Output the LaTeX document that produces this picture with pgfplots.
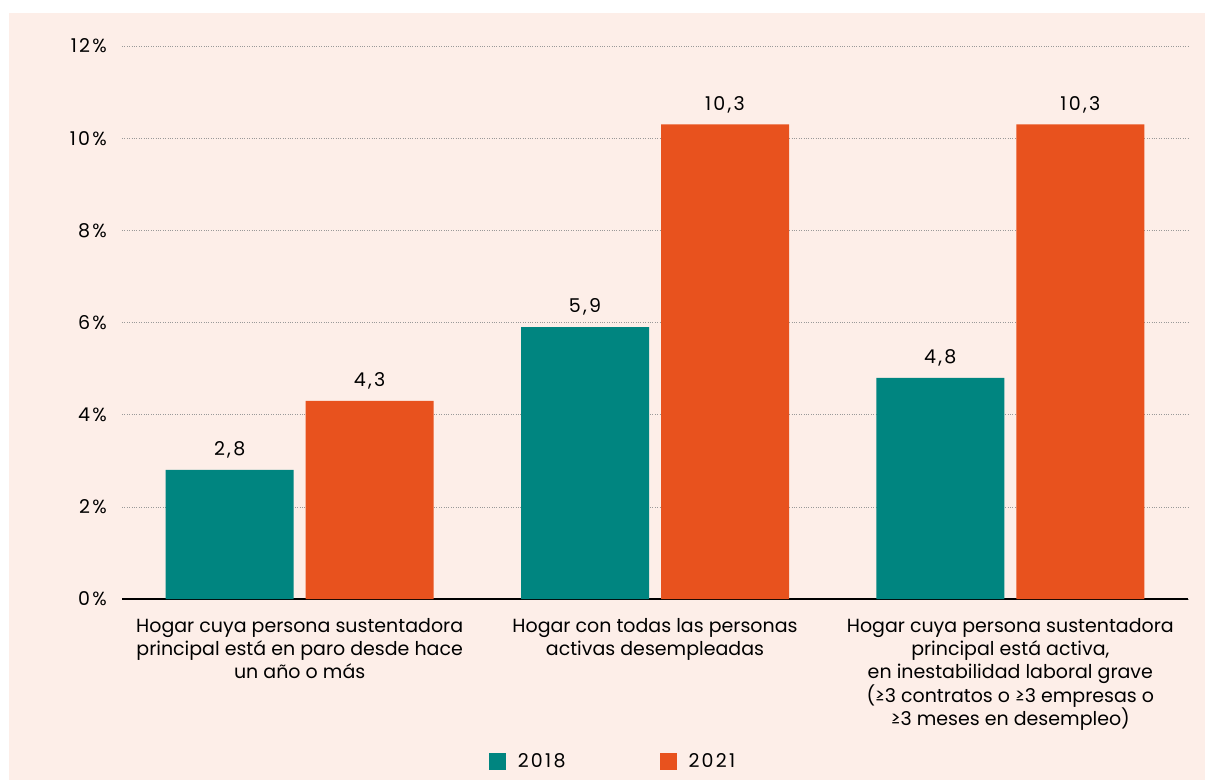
\documentclass[border=0pt]{standalone}
\usepackage{pgfplots}
\pgfplotsset{compat=1.18}
\usepackage{fontspec}
\setmainfont{Poppins}
\newfontfamily\numfont[LetterSpace=12]{Poppins}
\definecolor{fondo}{RGB}{253,238,232}
\definecolor{verde}{RGB}{0,133,128}
\definecolor{naranja}{RGB}{232,82,30}

\begin{document}
\begin{tikzpicture}[x=1pt,y=1pt]
\fill[white] (0,0) rectangle (1205,-780);
\fill[fondo] (9,-13) rectangle (1205,-780);
\begin{axis}[
  at={(122pt,-599pt)}, anchor=south west,
  scale only axis, width=1066pt, height=553pt,
  xmin=-0.5, xmax=2.5, ymin=0, ymax=12,
  ybar=12pt, bar width=128pt,
  axis x line*=bottom, axis y line*=left,
  y axis line style={draw=none},
  x axis line style={black, line width=1.5pt, -},
  major tick length=0pt,
  ytick={0,2,...,12},
  yticklabel={\pgfmathprintnumber{\tick}\%},
  /pgf/number format/assume math mode=true,
  ymajorgrids, grid style={black!40, dotted, line width=0.6pt},
  tick label style={inner sep=0pt},
  yticklabel style={xshift=-15pt, font=\numfont\fontsize{19}{23}\selectfont},
  xtick={0,1,2},
  xticklabels={{Hogar cuya persona sustentadora\\principal está en paro desde hace\\un año o más},
    {Hogar con todas las personas\\activas desempleadas},
    {Hogar cuya persona sustentadora\\principal está activa,\\en inestabilidad laboral grave\\(≥3 contratos o ≥3 empresas o\\≥3 meses en desempleo)}},
  xticklabel style={align=center, anchor=north, yshift=-19pt, font=\fontsize{19}{23.3}\selectfont},
  nodes near coords,
  nodes near coords style={font=\numfont\fontsize{19}{23}\selectfont, yshift=8pt,
    /pgf/number format/.cd, use comma, fixed, fixed zerofill, precision=1},
  clip=false,
  legend columns=2,
  legend style={at={(0.4606,-0.293)}, anchor=center, draw=none, fill=none,
    font=\numfont\fontsize{19}{23}\selectfont,
    /tikz/every even column/.append style={column sep=92pt}},
  legend image code/.code={\fill[#1] (0pt,-8.5pt) rectangle (17pt,8.5pt); \path (27pt,0pt);},
]
\addplot[fill=verde, draw=none] coordinates {(0,2.8) (1,5.9) (2,4.8)};
\addplot[fill=naranja, draw=none] coordinates {(0,4.3) (1,10.3) (2,10.3)};
\legend{2018,2021}
\end{axis}
\end{tikzpicture}
\end{document}
